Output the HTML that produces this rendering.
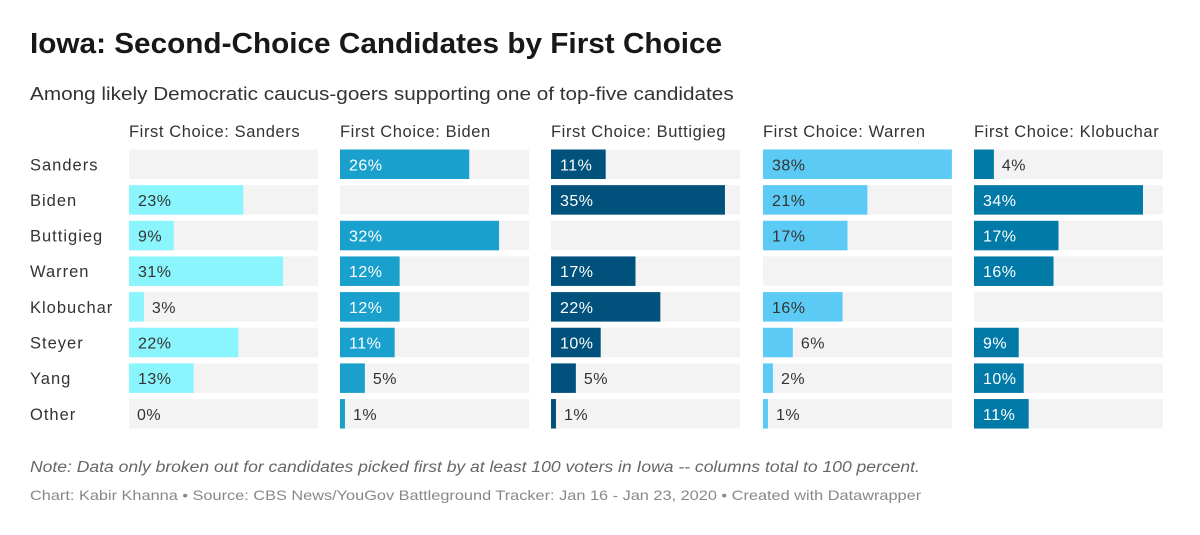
<!DOCTYPE html>
<html><head><meta charset="utf-8"><style>
body{margin:0;width:1200px;height:535px;background:#fff;font-family:"Liberation Sans",sans-serif;color:#333;position:relative;overflow:hidden}
.t{position:absolute;white-space:nowrap;transform-origin:0 0}
</style></head><body>
<div class="t" style="left:30px;top:28px;font-size:29px;font-weight:bold;color:#181818;transform:scaleX(1.025)">Iowa: Second-Choice Candidates by First Choice</div>
<div class="t" style="left:30px;top:83px;font-size:18.5px;color:#333;transform:scaleX(1.12)">Among likely Democratic caucus-goers supporting one of top-five candidates</div>
<div class="t" style="left:30px;top:459px;font-size:15.5px;font-style:italic;color:#666;transform:scaleX(1.13)">Note: Data only broken out for candidates picked first by at least 100 voters in Iowa -- columns total to 100 percent.</div>
<div class="t" style="left:30px;top:487px;font-size:14px;color:#888;transform:scaleX(1.165)">Chart: Kabir Khanna • Source: CBS News/YouGov Battleground Tracker: Jan 16 - Jan 23, 2020 • Created with Datawrapper</div>
<svg id="c" width="1200" height="535" style="position:absolute;left:0;top:0"></svg>
<script>
const rows=["Sanders","Biden","Buttigieg","Warren","Klobuchar","Steyer","Yang","Other"];
const panels=["Sanders","Biden","Buttigieg","Warren","Klobuchar"];
const valsSanders=[null,23,9,31,3,22,13,0];
const valsBiden=[26,null,32,12,12,11,5,1];
const valsButtigieg=[11,35,null,17,22,10,5,1];
const valsWarren=[38,21,17,null,16,6,2,1];
const valsKlobuchar=[4,34,17,16,null,9,10,11];
const series=[valsSanders,valsBiden,valsButtigieg,valsWarren,valsKlobuchar];
const colors=["#8af5fd","#1aa0cc","#00527c","#5bcbf5","#017aa8"];
const textCol=["#333","#fff","#fff","#333","#fff"];
const panelX=[129,340,551,763,974], panelW=189, ppu=4.97;
const rowY=i=>149.5+i*35.65, bh=29.5;
const svg=document.getElementById('c'), NS="http://www.w3.org/2000/svg";
function mk(t,a){const e=document.createElementNS(NS,t);for(const k in a)e.setAttribute(k,a[k]);svg.appendChild(e);return e;}
rows.forEach((r,i)=>{
  const t=mk('text',{x:30,y:rowY(i)+bh/2+6,'font-size':16.5,fill:'#333','letter-spacing':1});t.textContent=r;
  
  
});
panels.forEach((p,j)=>{
  const x0=panelX[j];
  const h=mk('text',{x:x0,y:137,'font-size':16.5,fill:'#333','letter-spacing':0.6});h.textContent="First Choice: "+p;
  
  
  series[j].forEach((v,i)=>{
    const y=rowY(i);
    const bg=mk('rect',{x:x0,y:y,width:panelW,height:bh,fill:'#f3f3f3'});
    
    
    if(v===null)return;
    const w=v*ppu;
    const b=mk('rect',{x:x0,y:y,width:w,height:bh,fill:colors[j]});
    
    
    const inside=v>=9;
    const lt=mk('text',{x:inside?x0+9:x0+w+8,y:y+bh/2+6,'font-size':16,fill:inside?textCol[j]:'#333','letter-spacing':0.5});
    lt.textContent=v+"%";
    
    
  });
});
</script>
</body></html>
